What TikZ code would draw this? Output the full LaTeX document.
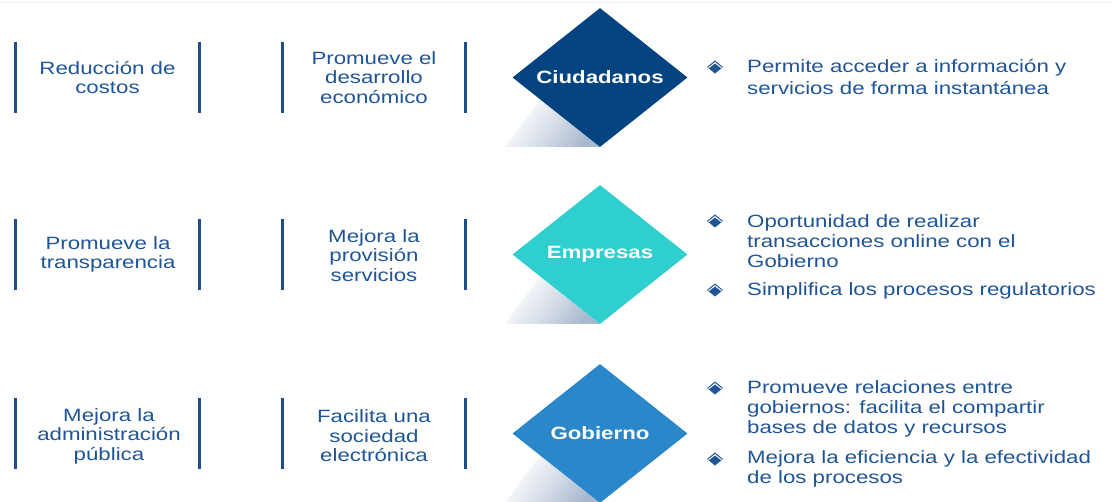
\documentclass[tikz,border=0pt]{standalone}
\usepackage{fontspec}
\setmainfont{Liberation Sans}[FakeStretch=1.25]
\usetikzlibrary{shapes.geometric}
\definecolor{txtblue}{HTML}{1F5597}
\definecolor{barblue}{HTML}{1F4E8A}
\definecolor{cciud}{HTML}{03437F}
\definecolor{cemp}{HTML}{2ECFCE}
\definecolor{cgob}{HTML}{2A87CA}
\definecolor{shadowc}{HTML}{A9B8CE}
\tikzset{
  bar/.style={draw=barblue, line width=3pt},
  lefttxt/.style={align=center, inner sep=0pt, text=txtblue, font=\fontsize{17.8}{19.5}\selectfont},
  righttxt/.style={align=left, inner sep=0pt, text=txtblue, anchor=base west},
  bigdiam/.style={diamond, aspect=1.26, minimum width=175pt, minimum height=139pt, inner sep=0pt,
     text=white, font=\fontsize{17.8}{20}\selectfont\bfseries},
  bulletd/.style={fill=txtblue},
  shad/.style={top color=white, bottom color=shadowc, middle color=white!55!shadowc, shading angle=53, draw=none},
}
\begin{document}
\begin{tikzpicture}[x=1pt, y=-1pt]
\useasboundingbox (0,0) rectangle (1112,502);
\draw[black!6, line width=0.8pt] (0,2.5) -- (1112,2.5);

% rows
\foreach \r/\yc in {1/77.5, 2/254.5, 3/433.5}{
  \coordinate (b1t\r) at (15.7,\yc-35.5); \coordinate (b1b\r) at (15.7,\yc+35.5);
  \coordinate (b2t\r) at (199.5,\yc-35.5); \coordinate (b2b\r) at (199.5,\yc+35.5);
  \coordinate (b3t\r) at (282,\yc-35.5); \coordinate (b3b\r) at (282,\yc+35.5);
  \coordinate (b4t\r) at (465.7,\yc-35.5); \coordinate (b4b\r) at (465.7,\yc+35.5);
  \draw[bar] (b1t\r) -- (b1b\r);
  \draw[bar] (b2t\r) -- (b2b\r);
  \draw[bar] (b3t\r) -- (b3b\r);
  \draw[bar] (b4t\r) -- (b4b\r);
  % shadow
  \shade[shad] (600,\yc+69.5) -- (505,\yc+69.5) -- (540,\yc+22) -- cycle;
}

\node[lefttxt] (t11) at (107.5,77.5) {Reducción de\\costos};
\node[lefttxt] (t12) at (374,77.5) {Promueve el\\desarrollo\\económico};
\node[lefttxt] (t21) at (108,254.5) {Promueve la\\transparencia};
\node[lefttxt] (t22) at (374,255.5) {Mejora la\\provisión\\servicios};
\node[lefttxt] (t31) at (109,436) {Mejora la\\administración\\pública};
\node[lefttxt] (t32) at (374,436) {Facilita una\\sociedad\\electrónica};

\node[bigdiam, fill=cciud] (d1) at (600,77.5) {Ciudadanos};
\node[bigdiam, fill=cemp] (d2) at (600,254.5) {Empresas};
\node[bigdiam, fill=cgob] (d3) at (600,433.5) {Gobierno};

% bullets
\foreach \n/\by in {a/67, b/221, c/290, d/388, e/459}{
  \fill[bulletd] (715-8,\by) -- (715,\by-6.5) -- (715+8,\by) -- (715,\by+6.5) -- cycle;
  \draw[white, line width=1pt] (715-6.5,\by+0.8) -- (715,\by-4.3) -- (715+6.5,\by+0.8);
}

\node[righttxt, font=\fontsize{17.8}{22}\selectfont] (r1) at (747,94.5)
  {Permite acceder a información y\\servicios de forma instantánea};
\node[righttxt, font=\fontsize{17.8}{20}\selectfont] (r2a) at (747,267.5)
  {Oportunidad de realizar\\transacciones online con el\\Gobierno};
\node[righttxt, font=\fontsize{17.8}{20}\selectfont] (r2b) at (747,295.5)
  {Simplifica los procesos regulatorios};
\node[righttxt, font=\fontsize{17.8}{20}\selectfont] (r3a) at (747,433.5)
  {Promueve relaciones entre\\gobiernos: facilita el compartir\\bases de datos y recursos};
\node[righttxt, font=\fontsize{17.8}{20}\selectfont] (r3b) at (747,483.5)
  {Mejora la eficiencia y la efectividad\\de los procesos};
\end{tikzpicture}
\end{document}
